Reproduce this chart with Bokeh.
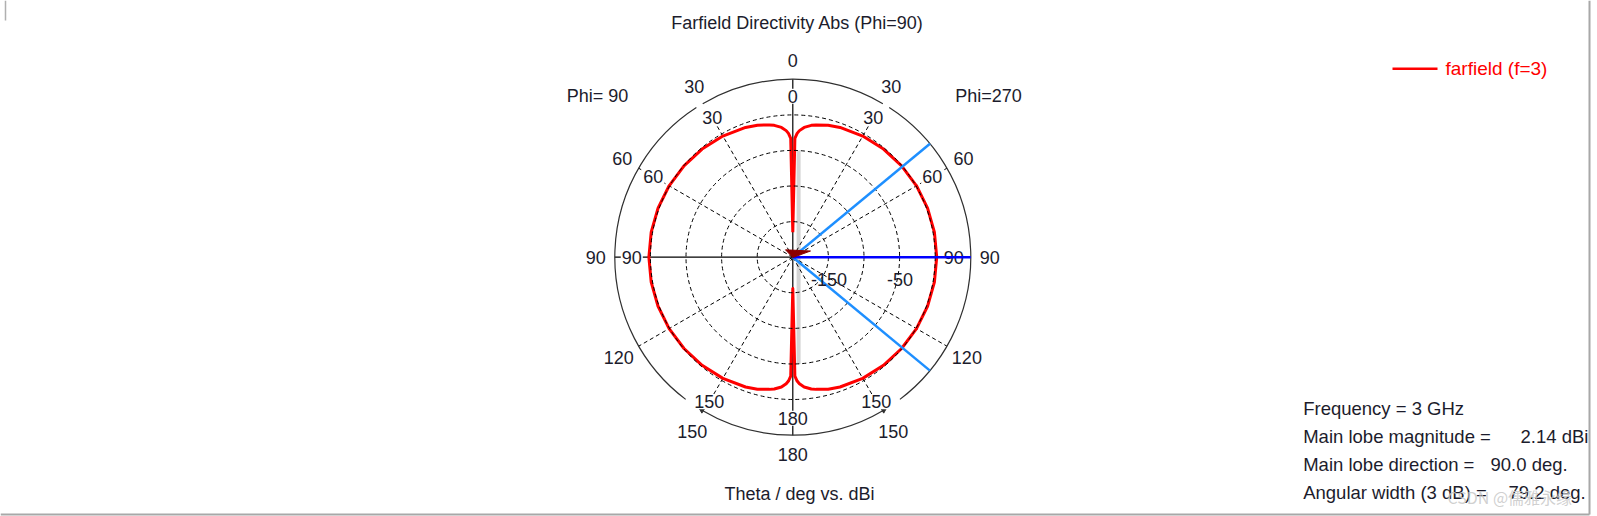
import numpy as np
from bokeh.plotting import figure
from bokeh.models import Range1d
from bokeh.embed import file_html
from bokeh.resources import INLINE
from bokeh.core.properties import value

# ---------------- data ----------------
theta_deg = [0, 1, 2, 3, 5, 8, 10, 15, 20, 30, 40, 50, 60, 70, 80, 90,
             100, 110, 120, 130, 140, 150, 160, 165, 170, 172, 175, 177, 178, 179, 180]
directivity_dbi = [-165, -33, -26, -22, -17, -13, -11.5, -8, -6, -3.5, -1.8, -0.5, 0.6, 1.4, 1.95, 2.14,
                   1.95, 1.4, 0.6, -0.5, -1.8, -3.5, -6, -8, -11.5, -13, -17, -22, -26, -33, -156]
ring_levels_db = [-150, -100, -50, 0]
ring_label_levels = [-150, -50]
ring_label_texts = ["-150", "-50"]
outer_angle_labels = [0, 30, 60, 90, 120, 150, 180]
inner_angle_labels = [0, 30, 60, 90, 150, 180]
spoke_angles = [30, 60, 120, 150]
db_center = -200
db_outer = 50
sll_level_db = -50
main_lobe_dir = 90.0
angular_width_3db = 79.2
main_lobe_mag = 2.14
frequency_ghz = 3
info_labels = ["Frequency = 3 GHz", "Main lobe magnitude =", "Main lobe direction =", "Angular width (3 dB) ="]
info_values = ["", "2.14 dBi", "90.0 deg.", "79.2 deg."]

# ---------------- geometry ----------------
W, H = 1597, 516
CX, CY = 792.3, 256.7
K = 0.712  # px per dB

def px(xp, yp):
    return (xp - CX) / K, (CY - yp) / K

def polar(theta, r, side=1):
    t = np.radians(np.asarray(theta, dtype=float))
    return side * np.asarray(r) * np.sin(t), np.asarray(r) * np.cos(t)

R_OUT = db_outer - db_center
FONT = "Liberation Sans"
FS = "18px"
TXT = "#1c1c2c"

p = figure(width=W, height=H, output_backend="svg", toolbar_location=None,
           x_range=Range1d(-CX / K, (W - CX) / K), y_range=Range1d(-(H - CY) / K, CY / K),
           x_axis_type=None, y_axis_type=None, min_border=0, outline_line_color=None)
p.grid.visible = False
p.background_fill_color = "white"
p.border_fill_color = "white"

def text(x, y, s, color=TXT, align="center", size=FS, font=FONT, alpha=1.0, bg=None):
    kw = {}
    if bg:
        kw = dict(background_fill_color=bg, padding=1)
    p.text(x=[x], y=[y], text=[s], text_font=value(font), text_font_size=value(size),
           text_color=color, text_align=align, text_baseline="middle", text_alpha=alpha, **kw)

# frame lines
fx0, fy0 = px(5, 0); fx1, fy1 = px(5, 20)
p.segment(x0=[fx0], y0=[fy0], x1=[fx1], y1=[fy1], line_color="#b0b0b0", line_width=1.5)
rx, ry0 = px(1589, 0); _, ry1 = px(1589, 514)
p.segment(x0=[rx], y0=[ry0], x1=[rx], y1=[ry1], line_color="#a8a8a8", line_width=2)
bx0, by = px(0, 514); bx1, _ = px(1589, 514)
p.segment(x0=[bx0], y0=[by], x1=[bx1], y1=[by], line_color="#a8a8a8", line_width=2)

# axis lines (solid black) up to the outer circle
p.segment(x0=[0, -R_OUT], y0=[R_OUT, 0], x1=[0, 0], y1=[-R_OUT, 0], line_color="black", line_width=1.2)

# gray side-lobe indicator
gx = 5.8 / K
gr = sll_level_db - db_center
p.segment(x0=[gx], y0=[gr], x1=[gx], y1=[-gr], line_color="#d4d4d4", line_width=4)

# dashed spokes
for a in spoke_angles:
    r_end = R_OUT if a in (60, 120) else 168 / K
    for side in (1, -1):
        x1, y1 = polar(a, r_end, side)
        p.segment(x0=[0], y0=[0], x1=[x1], y1=[y1], line_color="black", line_width=1, line_dash="4 3")

# farfield curve
r_vals = np.array(directivity_dbi) - db_center
xr, yr = polar(theta_deg, r_vals, 1)
xl, yl = polar(theta_deg[::-1], r_vals[::-1], -1)
p.line(np.concatenate([xr, xl]), np.concatenate([yr, yl]), line_color="#ff0000", line_width=3,
       line_join="round")

# dashed rings
for lvl in ring_levels_db:
    p.circle(x=[0], y=[0], radius=lvl - db_center, fill_color=None, line_color="black",
             line_width=1, line_dash="4 3")

# outer circle arcs (with gaps near labels)
arcs = [(90 - 30.4, 90 + 30.4), (90 - 143.0, 90 - 32.8), (90 + 32.8, 90 + 143.0), (90 + 149.3, 450 - 149.3)]
for s, e in arcs:
    p.arc(x=[0], y=[0], radius=R_OUT, start_angle=s, end_angle=e, start_angle_units="deg",
          end_angle_units="deg", direction="anticlock", line_color="#303030", line_width=1.2)
for side in (1, -1):
    ax_, ay_ = polar(149.3, R_OUT, side)
    p.scatter(x=[ax_], y=[ay_], marker="triangle", size=5, angle=np.radians(-59.3 * side),
              fill_color="#303030", line_color="#303030")

# angle labels
R_LBL_OUT = 197 / K
R_LBL_IN = 161 / K
for a in outer_angle_labels:
    sides = (1,) if a in (0, 180) else (1, -1)
    rr = R_LBL_OUT if a not in (120, 150) else 201 / K
    for side in sides:
        x, y = polar(a, rr, side)
        text(float(x), float(y), str(a), bg="white")
for a in inner_angle_labels:
    sides = (1,) if a in (0, 180) else (1, -1)
    rr = R_LBL_IN if a != 150 else 167 / K
    for side in sides:
        x, y = polar(a, rr, side)
        text(float(x), float(y), str(a), bg="white")

# main lobe & 3 dB lines
for a, col in [(main_lobe_dir - angular_width_3db / 2, "#1e8fff"), (main_lobe_dir + angular_width_3db / 2, "#1e8fff"),
               (main_lobe_dir, "#0000ff")]:
    x1, y1 = polar(a, R_OUT, 1)
    p.segment(x0=[0], y0=[0], x1=[x1], y1=[y1], line_color=col, line_width=2.5)

# dark red marker at centre
tri = [(-7.3, 7.4), (17.7, 6.2), (0, -0.3)]
p.patch([t[0] / K for t in tri], [t[1] / K for t in tri], fill_color="#8b0000", line_color="#8b0000")

# ring labels
for lvl, s in zip(ring_label_levels, ring_label_texts):
    text(lvl - db_center + 0.5 / K, -22.6 / K, s)

# titles and texts
text(*px(797, 22), "Farfield Directivity Abs (Phi=90)")
text(*px(597, 95), "Phi= 90")
text(*px(988, 95), "Phi=270")
text(*px(799, 493), "Theta / deg vs. dBi")

# legend
lx0, ly = px(1392, 68.3); lx1, _ = px(1437, 68.3)
p.segment(x0=[lx0], y0=[ly], x1=[lx1], y1=[ly], line_color="#ff0000", line_width=2.5)
text(*px(1445, 68), "farfield (f=3)", color="#ff0000", align="left", size="19px")

# info block
info_y = [408.3, 436.3, 463.8, 491.5]
value_x = [0, 1520, 1490, 1508]
for lab, val, yy, vx in zip(info_labels, info_values, info_y, value_x):
    text(*px(1302.7, yy), lab, align="left", size="18.5px")
    if val:
        text(*px(vx, yy), val, align="left", size="18.5px")

# watermark
text(*px(1447, 496), "CSDN @儒雅永缘", color="#c8c8c8", align="left", size="16px",
     font="Noto Sans CJK SC", alpha=0.85)

open("out.html", "w").write(file_html(p, INLINE))
